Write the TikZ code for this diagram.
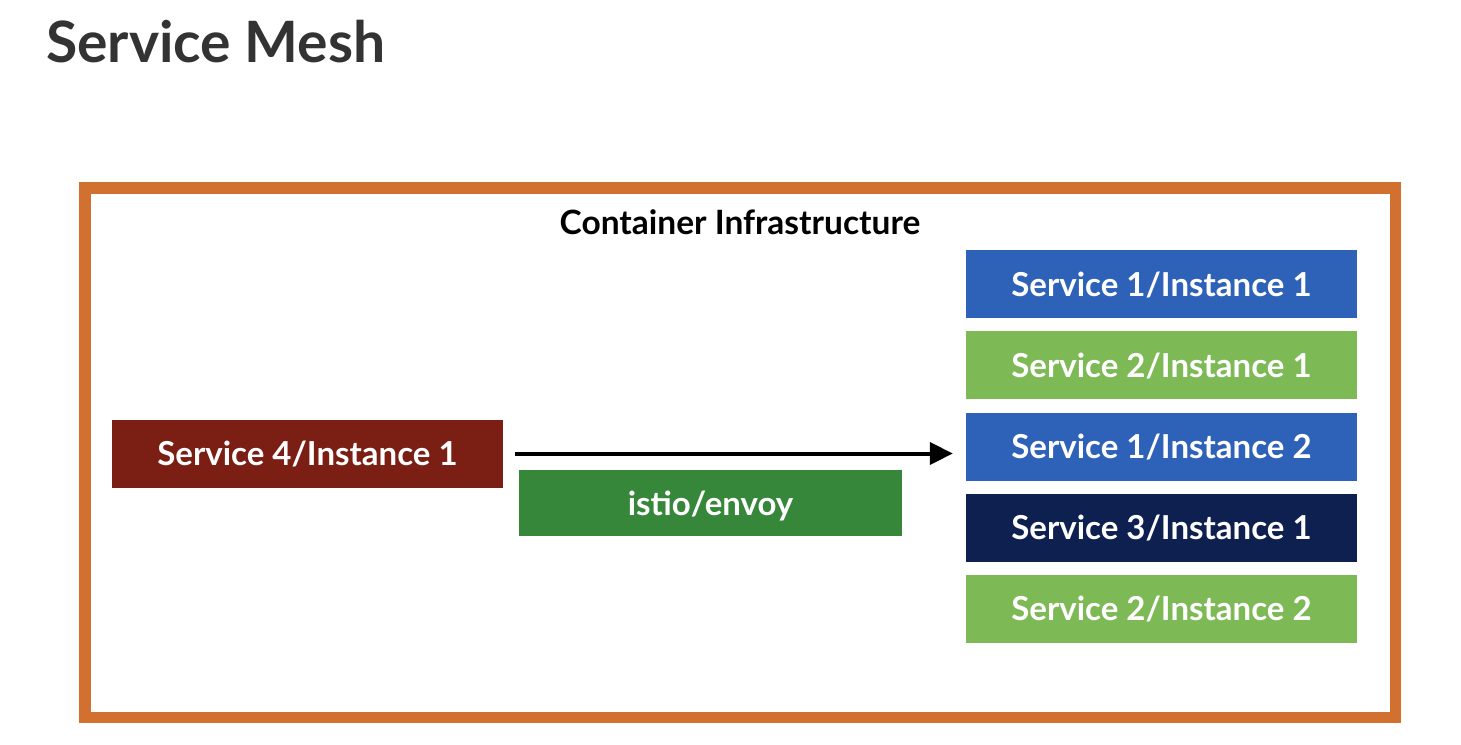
\documentclass[tikz,border=0pt]{standalone}
\usepackage{fontspec}
\setmainfont{Lato}
\usetikzlibrary{arrows.meta}
\definecolor{frameorange}{HTML}{D2702F}
\definecolor{svcblue}{HTML}{2E62B8}
\definecolor{svcgreen}{HTML}{7DB955}
\definecolor{svcnavy}{HTML}{0E2050}
\definecolor{svcred}{HTML}{7B1F15}
\definecolor{istiogreen}{HTML}{37873A}
\definecolor{titlegray}{HTML}{333333}
\begin{document}
\begin{tikzpicture}[x=1pt,y=-1pt,
  svcbox/.style={rectangle, inner sep=0pt, minimum width=391pt, minimum height=68pt,
    text height=27pt, text depth=3pt,
    text=white, font=\fontsize{33}{38}\selectfont\bfseries},
]
\useasboundingbox (0,0) rectangle (1461,744);
\fill[white] (0,0) rectangle (1461,744);
\node[anchor=base west, inner sep=0pt, text=titlegray, font=\fontsize{57}{64}\selectfont\bfseries] (title) at (46,62) {Service Mesh};
\draw[frameorange, line width=11.5pt] (85,188) rectangle (1395.5,717.5);
\node[anchor=base, inner sep=0pt, font=\fontsize{33.5}{38}\selectfont\bfseries] (infra) at (740,234) {Container Infrastructure};
\node[svcbox, fill=svcblue] (s11) at (1161.5,284) {Service 1/Instance 1};
\node[svcbox, fill=svcgreen] (s21) at (1161.5,365) {Service 2/Instance 1};
\node[svcbox, fill=svcblue] (s12) at (1161.5,446.5) {Service 1/Instance 2};
\node[svcbox, fill=svcnavy] (s31) at (1161.5,527.5) {Service 3/Instance 1};
\node[svcbox, fill=svcgreen] (s22) at (1161.5,608.5) {Service 2/Instance 2};
\node[svcbox, fill=svcred] (s41) at (307.5,453.5) {Service 4/Instance 1};
\node[svcbox, fill=istiogreen, minimum width=383pt, minimum height=66pt] (istio) at (710.5,503) {istio/envoy};
\draw[line width=4pt, -{Triangle[length=23pt,width=22pt]}]
  ([xshift=12pt]s41.east) -- ([xshift=-13pt]s12.west |- s41.east);
\end{tikzpicture}
\end{document}
